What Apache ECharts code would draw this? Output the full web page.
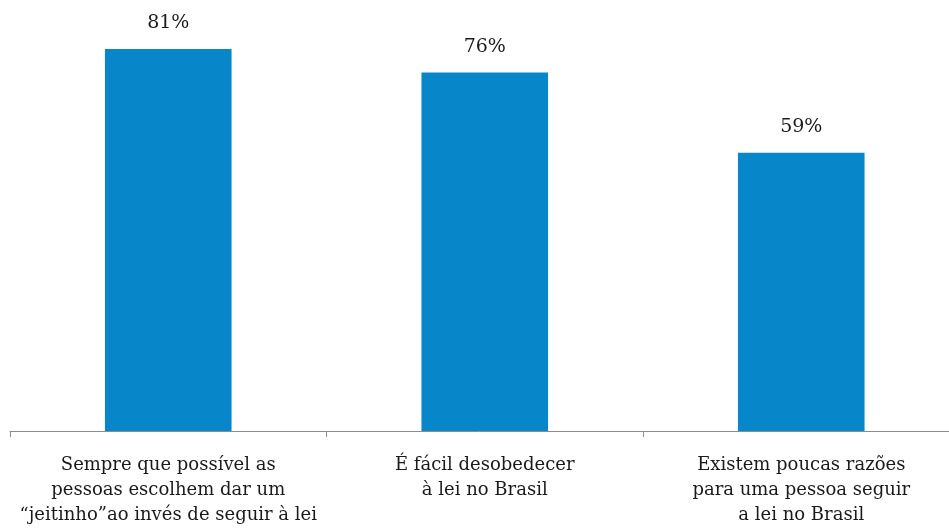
<!DOCTYPE html>
<html>
<head>
<meta charset="utf-8">
<script src="https://cdn.jsdelivr.net/npm/echarts@6/dist/echarts.min.js"></script>
<style>
  html, body { margin: 0; padding: 0; background: #fff; }
  #chart { width: 949px; height: 530px; }
</style>
</head>
<body>
<div id="chart"></div>
<script>
const categories = [
  'Sempre que possível as\npessoas escolhem dar um\n“jeitinho”ao invés de seguir à lei',
  'É fácil desobedecer\nà lei no Brasil',
  'Existem poucas razões\npara uma pessoa seguir\na lei no Brasil'
]
const values = [81, 76, 59]

const chart = echarts.init(document.getElementById('chart'))
const font = 'DejaVu Serif'
chart.setOption({
  animation: false,
  grid: { left: 10, width: 949.5, top: 6.5, bottom: 99, outerBoundsMode: 'none', containLabel: false },
  xAxis: {
    type: 'category',
    data: categories,
    axisLine: { lineStyle: { color: '#8c8c8c', width: 1 } },
    axisTick: { show: true, length: 6, lineStyle: { color: '#8c8c8c' } },
    axisLabel: {
      color: '#1a1a1a',
      fontFamily: font,
      fontSize: 18,
      lineHeight: 25,
      margin: 22,
      interval: 0
    }
  },
  yAxis: {
    type: 'value',
    min: 0,
    max: 90,
    show: false,
    splitLine: { show: false }
  },
  series: [{
    type: 'bar',
    data: values,
    barWidth: '40%',
    itemStyle: { color: '#0787c9' },
    label: {
      show: true,
      position: 'top',
      distance: 16,
      formatter: '{c}%',
      color: '#1a1a1a',
      fontFamily: font,
      fontSize: 19
    }
  }]
})
</script>
</body>
</html>
